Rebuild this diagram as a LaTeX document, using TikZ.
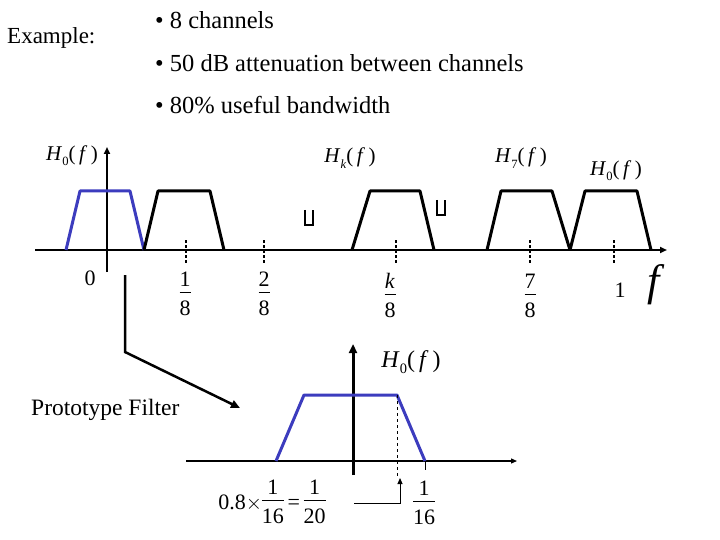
\documentclass[tikz,border=0pt]{standalone}
\usepackage{fontspec}
\setmainfont{Liberation Serif}
\usetikzlibrary{arrows.meta}
\newcommand{\fr}[2]{\begin{tabular}{@{}c@{}}#1\\[-2pt]\hline\rule{0pt}{1.05em}#2\end{tabular}}
\newcommand{\Hf}[1]{\textit{H}\raisebox{-0.25em}{\scalebox{0.6}{#1}}(\,\textit{f}\,)}
\begin{document}
\begin{tikzpicture}[x=1pt,y=-1pt,
  trap/.style={line width=3pt,line join=round},
  ax/.style={line width=2pt,-{Triangle[length=7pt,width=6pt]}},
  tick/.style={line width=2.5pt,dash pattern=on 3pt off 2pt},
  lbl/.style={font=\fontsize{21}{23}\selectfont,inner sep=0pt},
  fl/.style={font=\fontsize{22}{24}\selectfont,inner sep=0pt},
  txt/.style={font=\fontsize{24.5}{26}\selectfont,inner sep=0pt,anchor=west}]
\useasboundingbox (0,0) rectangle (720,540);
\node[txt,font=\fontsize{23}{25}\selectfont] (ex) at (7,38) {Example:};
\node[txt] (b1) at (155,20) {\textbullet\ 8 channels};
\node[txt] (b2) at (155,63) {\textbullet\ 50 dB attenuation between channels};
\node[txt] (b3) at (155,105) {\textbullet\ 80\% useful bandwidth};
% top axes
\coordinate (xa0) at (35,250); \coordinate (xa1) at (667,250);
\draw[ax] (xa0) -- (xa1);
\coordinate (ya0) at (107,272); \coordinate (ya1) at (107,147);
\draw[ax] (ya0) -- (ya1);
\draw[trap,draw={rgb,255:red,60;green,60;blue,190}] (66,250) -- (80,191) -- (130,191) -- (144,250);
\draw[trap] (144,250) -- (158,191) -- (210,191) -- (224,250);
\draw[trap] (352,250) -- (370,191) -- (420,191) -- (434,250);
\draw[trap] (487,250) -- (501,191) -- (552,191) -- (570,250);
\draw[trap] (570,250) -- (585,191) -- (637,191) -- (651,250);
\foreach \x in {186,264,396,530,614} \draw[tick] (\x,240) -- (\x,263);
\draw[line width=1.5pt] (305,210) -- (305,225) -- (313,225) -- (313,210);
\draw[line width=1.5pt] (437,200) -- (437,215) -- (445,215) -- (445,200);
\node[lbl] (h0a) at (72,156) {\Hf{0}};
\node[lbl] (hk) at (350,158) {\Hf{\textit{k}}};
\node[lbl] (h7) at (521,158) {\Hf{7}};
\node[lbl] (h0b) at (616,171) {\Hf{0}};
\node[fl] (z) at (90,278) {0};
\node[fl] (f1) at (185,296) {\fr{1}{8}};
\node[fl] (f2) at (264,296) {\fr{2}{8}};
\node[fl] (fk) at (390,298) {\fr{\textit{k}}{8}};
\node[fl] (f7) at (530,298) {\fr{7}{8}};
\node[fl] (one) at (620,290) {1};
\node[inner sep=0pt,font=\fontsize{44}{46}\selectfont\itshape] (ff) at (654,285) {f};
% connector
\coordinate (c0) at (125,275); \coordinate (c1) at (125,352); \coordinate (c2) at (240,408);
\draw[line width=2.5pt,-{Triangle[length=9pt,width=8pt]}] (c0) -- (c1) -- (c2);
\node[txt,font=\fontsize{23.5}{25}\selectfont] (pf) at (31,410) {Prototype Filter};
% bottom
\coordinate (xb0) at (186,461); \coordinate (xb1) at (517,461);
\draw[line width=1.2pt,-{Triangle[length=6pt,width=5pt]}] (xb0) -- (xb1);
\coordinate (yb0) at (353,475); \coordinate (yb1) at (353,344);
\draw[line width=3pt,-{Triangle[length=9pt,width=8pt]}] (yb0) -- (yb1);
\draw[trap,draw={rgb,255:red,60;green,60;blue,190}] (276,461) -- (304,395) -- (397,395) -- (425,461);
\draw[dashed,thin] (397,395) -- (397,478);
\draw[thin] (425,461) -- (425,470);
\node[lbl,font=\fontsize{24}{26}\selectfont] (h0c) at (411,362) {\Hf{0}};
\node[fl] (frm) at (272,504) {0.8$\times$\fr{1}{16}\,=\,\fr{1}{20}};
\coordinate (a0) at (354,503); \coordinate (a1) at (400,503); \coordinate (a2) at (400,478);
\draw[line width=1pt,-{Triangle[length=6pt,width=5pt]}] (a0) -- (a1) -- (a2);
\node[fl] (s16) at (424,505) {\fr{1}{16}};
\end{tikzpicture}
\end{document}
